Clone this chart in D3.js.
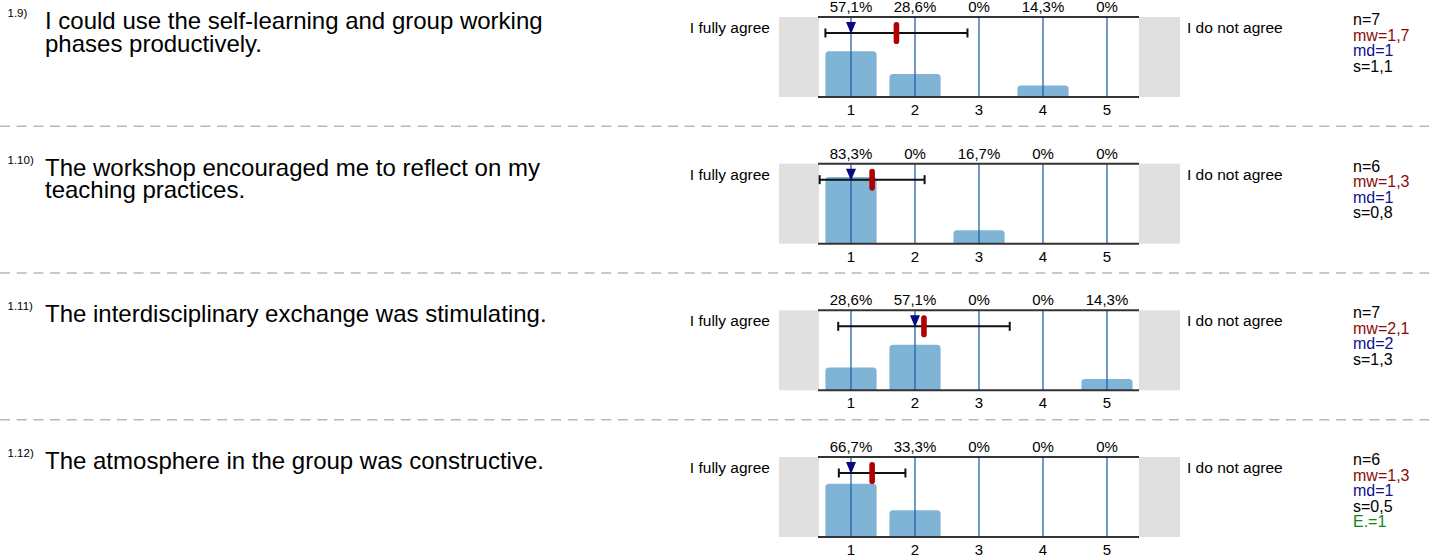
<!DOCTYPE html>
<html>
<head>
<meta charset="utf-8">
<script src="https://cdn.jsdelivr.net/npm/d3@7"></script>
<style>
  body { margin: 0; background: #fff; }
  svg { display: block; font-family: "Liberation Sans", Arial, sans-serif; }
</style>
</head>
<body>
<div id="chart"></div>
<script>
/* survey item profile */

const width = 1429,
    height = 557;

const ids = ["1.9)", "1.10)", "1.11)", "1.12)"];
const questions = [
    ["I could use the self-learning and group working", "phases productively."],
    ["The workshop encouraged me to reflect on my", "teaching practices."],
    ["The interdisciplinary exchange was stimulating."],
    ["The atmosphere in the group was constructive."]
];
const scaleValues = [1, 2, 3, 4, 5];
const pcts = [
    [57.1, 28.6, 0, 14.3, 0],
    [83.3, 0, 16.7, 0, 0],
    [28.6, 57.1, 0, 0, 14.3],
    [66.7, 33.3, 0, 0, 0]
];
const nVals = [7, 6, 7, 6];
const means = [1.71, 1.33, 2.14, 1.33];
const medians = [1, 1, 2, 1];
const sds = [1.11, 0.82, 1.34, 0.52];
const abstentions = [null, null, null, 1];
const leftLabel = "I fully agree",
    rightLabel = "I do not agree";

const comma = v => v.toFixed(1).replace(".", ",");
const pctFmt = v => v === 0 ? "0%" : comma(v) + "%";

const svg = d3.select("#chart")
    .append("svg")
    .attr("width", width)
    .attr("height", height);

let rowY = d3.scaleLinear()          // top line of each item's plot
    .domain([0, ids.length - 1])
    .range([17, 457]);

let x = d3.scaleBand()
    .domain(scaleValues)
    .range([819, 1139])
    .paddingInner(0.2)
    .paddingOuter(0.1);

let xVal = d3.scaleLinear()          // continuous position for mean / sd
    .domain([1, 5])
    .range([x(1) + x.bandwidth() / 2, x(5) + x.bandwidth() / 2]);

const plotH = 80;
let y = d3.scaleLinear()
    .domain([0, 100])
    .range([plotH, 0]);

function topRounded(x0, y0, w, h, r) {
    if (h <= 0) return "";
    r = Math.min(r, h, w / 2);
    return `M${x0},${y0 + h}V${y0 + r}Q${x0},${y0} ${x0 + r},${y0}H${x0 + w - r}Q${x0 + w},${y0} ${x0 + w},${y0 + r}V${y0 + h}Z`;
}

// dashed separators between items
for (let i = 0; i < ids.length - 1; i++) {
    let sy = (rowY(i) + plotH + rowY(i + 1)) / 2 - 4;
    svg.append("line")
        .attr("x1", 0).attr("x2", width)
        .attr("y1", sy).attr("y2", sy)
        .attr("stroke", "#b8b8b8")
        .attr("stroke-width", 1.5)
        .attr("stroke-dasharray", "10,6.7");
}

ids.forEach((id, i) => {
    const g = svg.append("g")
        .attr("transform", `translate(0,${rowY(i)})`);

    // question number + text
    g.append("text")
        .attr("x", 7.5).attr("y", 0)
        .attr("font-size", 11.5)
        .attr("fill", "#000")
        .text(id);

    g.selectAll(".q")
        .data(questions[i])
        .join("text")
        .attr("x", 45)
        .attr("y", (d, k) => 12 + k * 22.5)
        .attr("font-size", 24)
        .attr("fill", "#000")
        .text(d => d);

    // grey end boxes
    g.append("rect")
        .attr("x", 779).attr("y", 0)
        .attr("width", x.range()[0] - 779).attr("height", plotH)
        .attr("fill", "#e0e0e0");
    g.append("rect")
        .attr("x", x.range()[1]).attr("y", 0)
        .attr("width", 1180 - x.range()[1]).attr("height", plotH)
        .attr("fill", "#e0e0e0");

    g.append("text")
        .attr("x", 770).attr("y", 16)
        .attr("text-anchor", "end")
        .attr("font-size", 15.5)
        .text(leftLabel);
    g.append("text")
        .attr("x", 1187).attr("y", 16)
        .attr("font-size", 15.5)
        .text(rightLabel);

    // bars
    g.selectAll(".bar")
        .data(pcts[i].map((p, k) => ({ v: scaleValues[k], p })))
        .join("path")
        .attr("d", d => topRounded(x(d.v), y(d.p), x.bandwidth(), plotH - y(d.p), 3.5))
        .attr("fill", "#80b4d6");

    // vertical grid lines
    g.selectAll(".grid")
        .data(scaleValues)
        .join("line")
        .attr("x1", d => x(d) + x.bandwidth() / 2)
        .attr("x2", d => x(d) + x.bandwidth() / 2)
        .attr("y1", 0).attr("y2", plotH)
        .attr("stroke", "#2563ab")
        .attr("stroke-width", 1.3);

    // top and bottom frame lines
    [0, plotH].forEach(ly => {
        g.append("line")
            .attr("x1", x.range()[0] - 1).attr("x2", x.range()[1])
            .attr("y1", ly).attr("y2", ly)
            .attr("stroke", "#333")
            .attr("stroke-width", 2);
    });

    // percentages above
    g.selectAll(".pct")
        .data(pcts[i].map((p, k) => ({ v: scaleValues[k], p })))
        .join("text")
        .attr("x", d => x(d.v) + x.bandwidth() / 2)
        .attr("y", -5)
        .attr("text-anchor", "middle")
        .attr("font-size", 15)
        .text(d => pctFmt(d.p));

    // tick labels below
    g.selectAll(".tick")
        .data(scaleValues)
        .join("text")
        .attr("x", d => x(d) + x.bandwidth() / 2)
        .attr("y", plotH + 18)
        .attr("text-anchor", "middle")
        .attr("font-size", 15)
        .text(d => d);

    // standard deviation bar
    const ey = 16;
    const lo = xVal(means[i] - sds[i]),
        hi = xVal(means[i] + sds[i]);
    g.append("line")
        .attr("x1", lo).attr("x2", hi)
        .attr("y1", ey).attr("y2", ey)
        .attr("stroke", "#111").attr("stroke-width", 2);
    [lo, hi].forEach(cx => {
        g.append("line")
            .attr("x1", cx).attr("x2", cx)
            .attr("y1", ey - 4.5).attr("y2", ey + 4.5)
            .attr("stroke", "#111").attr("stroke-width", 2);
    });

    // median triangle
    const mx = xVal(medians[i]);
    g.append("path")
        .attr("d", `M${mx - 5},5L${mx + 5},5L${mx},${ey + 1}Z`)
        .attr("fill", "#0a0a80");

    // mean marker
    g.append("rect")
        .attr("x", xVal(means[i]) - 2.8).attr("y", 5)
        .attr("width", 5.6).attr("height", 22)
        .attr("rx", 2.8)
        .attr("fill", "#b00000");

    // stats block
    const stats = [
        { t: "n=" + nVals[i], c: "#000" },
        { t: "mw=" + comma(means[i]), c: "#8b0a0a" },
        { t: "md=" + medians[i], c: "#10108c" },
        { t: "s=" + comma(sds[i]), c: "#000" }
    ];
    if (abstentions[i] != null) stats.push({ t: "E.=" + abstentions[i], c: "#11861a" });

    g.selectAll(".stat")
        .data(stats)
        .join("text")
        .attr("x", 1353)
        .attr("y", (d, k) => 8 + k * 15.5)
        .attr("font-size", 16)
        .attr("fill", d => d.c)
        .text(d => d.t);
});
</script>
</body>
</html>
